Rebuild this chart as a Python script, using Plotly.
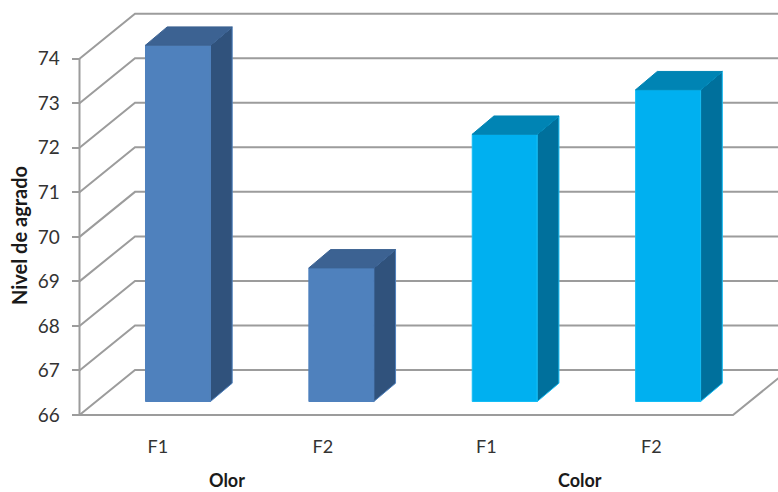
import plotly.graph_objects as go

# Chart data
groups = ["Olor", "Color"]
factors = ["F1", "F2"]
olor_values = [74, 69]
color_values = [72, 73]
value_ticks = [66, 67, 68, 69, 70, 71, 72, 73, 74]

# Page and chart frame, in pixels
WIDTH, HEIGHT = 778, 492
LEFT, RIGHT, TOP, BOTTOM = 79.5, 733, 58.7, 415
px_per_cat = (RIGHT - LEFT) / 4
px_per_val = (BOTTOM - TOP) / 8


def cat(px):
    return px / px_per_cat


def val(px):
    return px / px_per_val


# Axes fill the page so the oblique box can run past the front frame
x_range = [-cat(LEFT), cat(WIDTH - LEFT)]
y_range = [66 - val(HEIGHT - BOTTOM), 66 + val(BOTTOM)]

# Oblique depth of the chart box and of each bar
BOX_DX, BOX_DY = cat(55.5), val(45)
BAR_DX, BAR_DY = cat(21.7), val(18.3)
BAR_SHIFT_X, BAR_SHIFT_Y = cat(16.8), val(13.5)
BAR_WIDTH = cat(65)

GRID = "#9c9c9c"
positions = [0.5, 1.5, 2.5, 3.5]
values = olor_values + color_values
front = ["#4f81bd", "#4f81bd", "#00b0f0", "#00b0f0"]
side = ["#30527c", "#30527c", "#00709c", "#00709c"]
top = ["#3c6292", "#3c6292", "#0084b4", "#0084b4"]
edge = ["#4f81bd", "#4f81bd", "#14bdf5", "#14bdf5"]

fig = go.Figure()


def wall_line(xs, ys):
    fig.add_trace(go.Scatter(x=xs, y=ys, mode="lines",
                             line=dict(color=GRID, width=2),
                             hoverinfo="skip", showlegend=False))


# Back wall and side wall gridlines
for v in value_ticks:
    wall_line([0, BOX_DX, 4 + BOX_DX], [v, v + BOX_DY, v + BOX_DY])
# Front axis lines and the right edge of the floor
wall_line([0, 0, 4, 4 + BOX_DX], [74, 66, 66, 66 + BOX_DY])


def face(xs, ys, fill, line):
    fig.add_trace(go.Scatter(x=xs, y=ys, mode="lines", fill="toself",
                             fillcolor=fill,
                             line=dict(color=line, width=1),
                             xaxis="x2", yaxis="y2",
                             hoverinfo="skip", showlegend=False))


# Bar fronts
fig.add_trace(go.Bar(x=positions, y=[v - 66 for v in values], base=66,
                     width=BAR_WIDTH,
                     marker=dict(color=front, line=dict(color=edge, width=1)),
                     xaxis="x2", yaxis="y2", showlegend=False))

# Side and top faces follow each bar's value
for p, v, s, t, e in zip(positions, values, side, top, edge):
    l, r = p - BAR_WIDTH / 2, p + BAR_WIDTH / 2
    face([r, r + BAR_DX, r + BAR_DX, r, r],
         [66, 66 + BAR_DY, v + BAR_DY, v, 66], s, e)
    face([l, l + BAR_DX, r + BAR_DX, r, l],
         [v, v + BAR_DY, v + BAR_DY, v, v], t, t)

# Group labels under the factor ticks
font_name = "Lato"
for label, x in zip(groups, [0.903, 3.063]):
    fig.add_annotation(x=x, y=1 - 480 / HEIGHT, xref="x", yref="paper",
                       xanchor="center", yanchor="middle",
                       text=f"<b>{label}</b>", showarrow=False,
                       font=dict(family=font_name, size=18, color="#1a1a1a"))

# Value axis title
fig.add_annotation(x=19 / WIDTH, y=1 - 236 / HEIGHT, xref="paper", yref="paper",
                   xanchor="center", yanchor="middle",
                   text="<b>Nivel de agrado</b>", textangle=-90, showarrow=False,
                   font=dict(family=font_name, size=20, color="#1a1a1a"))

fig.update_layout(
    width=WIDTH, height=HEIGHT,
    margin=dict(l=0, r=0, t=0, b=0, pad=0),
    paper_bgcolor="white", plot_bgcolor="white",
    barmode="overlay",
    font=dict(family=font_name, color="#333333"),
    xaxis=dict(range=x_range, tickmode="array",
               tickvals=[0.48, 1.49, 2.49, 3.5],
               ticktext=factors * 2,
               anchor="free", position=1 - BOTTOM / HEIGHT,
               ticks="", ticklabelstandoff=19, tickfont=dict(size=18),
               showgrid=False, zeroline=False, showline=False),
    yaxis=dict(range=y_range, tickmode="array", tickvals=value_ticks,
               anchor="free", position=LEFT / WIDTH,
               ticks="outside", ticklen=8, tickwidth=2, tickcolor=GRID,
               ticklabelstandoff=8, tickfont=dict(size=19),
               showgrid=False, zeroline=False, showline=False),
    xaxis2=dict(range=[x_range[0] - BAR_SHIFT_X, x_range[1] - BAR_SHIFT_X],
                overlaying="x", visible=False, anchor="y2"),
    yaxis2=dict(range=[y_range[0] - BAR_SHIFT_Y, y_range[1] - BAR_SHIFT_Y],
                overlaying="y", visible=False, anchor="x2"),
)

fig.write_html("out.html")
